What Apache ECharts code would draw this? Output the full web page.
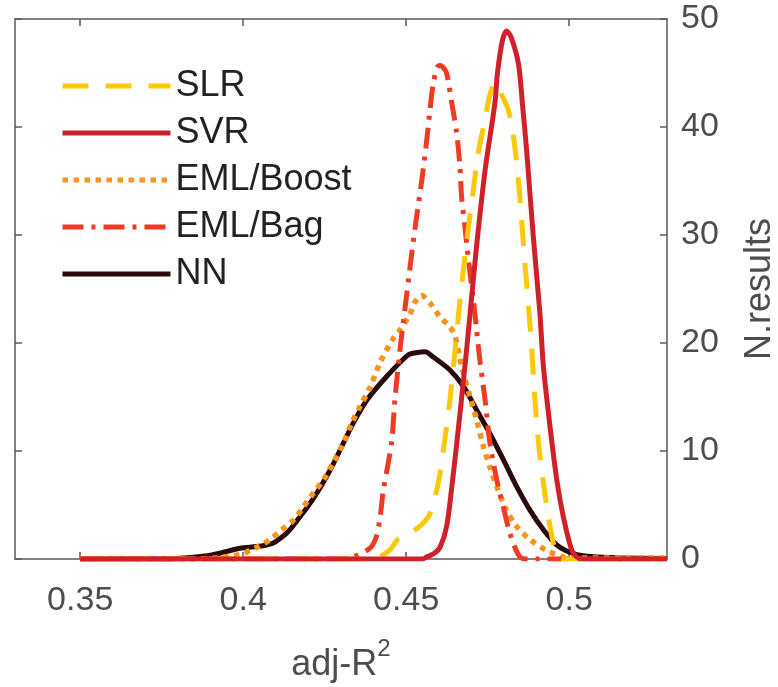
<!DOCTYPE html>
<html>
<head>
<meta charset="utf-8">
<script src="https://cdn.jsdelivr.net/npm/echarts@6/dist/echarts.min.js"></script>
<style>
html,body{margin:0;padding:0;background:#fff;}
#chart{width:778px;height:687px;}
</style>
</head>
<body>
<div id="chart"></div>
<script>
const seriesNames = ['SLR', 'SVR', 'EML/Boost', 'EML/Bag', 'NN'];
const xTicks = [0.35, 0.4, 0.45, 0.5];
const yTicks = [0, 10, 20, 30, 40, 50];

const slr = [[0.35,0],[0.44,0],[0.4430,0.4],[0.4455,1.0],[0.4476,1.9],[0.4527,2.7],[0.4555,3.4],[0.4573,4.2],[0.4598,7.0],[0.4614,10.1],[0.4634,14.7],[0.4650,19.4],[0.4665,24.0],[0.4690,30.5],[0.4706,34.2],[0.4721,37.6],[0.4737,40.0],[0.4757,43.0],[0.4772,44.1],[0.4788,43.3],[0.4813,41.6],[0.4829,39.1],[0.4844,35.1],[0.4854,31.4],[0.4864,27.4],[0.4875,23.5],[0.4885,19.4],[0.4895,14.7],[0.4905,11.0],[0.4921,7.0],[0.4936,3.9],[0.4951,1.5],[0.4962,0.2],[0.498,0],[0.53,0]];

const svr = [[0.35,0],[0.455,0],[0.4563,0.2],[0.4585,0.5],[0.4604,1.1],[0.4624,3.0],[0.4640,6.7],[0.4655,10.7],[0.4670,14.9],[0.4686,19.6],[0.4701,24.3],[0.4716,29.0],[0.4742,36.0],[0.4772,42.2],[0.4780,45.0],[0.4795,48.0],[0.4808,48.9],[0.4822,48.3],[0.4844,45.9],[0.4857,42.0],[0.4870,37.6],[0.4890,29.8],[0.4910,22.8],[0.4921,17.8],[0.4941,12.3],[0.4962,7.3],[0.4982,3.9],[0.5008,0.8],[0.5023,0.2],[0.504,0],[0.53,0]];

const boost = [[0.35,0],[0.385,0],[0.392,0.1],[0.397,0.3],[0.400,0.5],[0.4021,0.8],[0.4050,1.2],[0.4082,1.8],[0.4118,2.7],[0.4154,3.6],[0.4184,4.8],[0.4215,6.1],[0.4246,7.3],[0.4276,8.9],[0.4307,10.7],[0.4333,12.6],[0.4358,14.1],[0.4389,15.9],[0.4420,18.2],[0.4460,20.4],[0.4481,21.2],[0.4512,22.7],[0.4527,23.8],[0.4547,24.4],[0.4573,23.7],[0.4604,22.4],[0.4634,21.5],[0.4650,20.6],[0.4670,17.8],[0.4696,15.0],[0.4716,12.9],[0.4737,10.4],[0.4757,8.5],[0.4778,6.7],[0.4808,4.5],[0.4839,3.0],[0.4880,1.8],[0.4931,0.8],[0.4982,0.2],[0.505,0.1],[0.53,0.1]];

const bag = [[0.35,0],[0.4307,0],[0.4338,0.2],[0.4389,1.0],[0.4409,2.1],[0.4420,3.9],[0.4430,6.4],[0.4445,8.9],[0.4456,11.0],[0.4466,15.0],[0.4481,19.4],[0.4502,24.6],[0.4517,28.3],[0.4532,31.7],[0.4548,35.1],[0.4563,38.8],[0.4573,41.6],[0.4583,44.0],[0.4595,45.5],[0.4604,45.7],[0.4614,45.5],[0.4624,45.0],[0.4640,42.2],[0.4655,39.4],[0.4665,36.3],[0.4670,33.5],[0.4680,30.8],[0.4691,27.7],[0.4706,24.0],[0.4716,21.2],[0.4726,18.4],[0.4742,14.7],[0.4757,10.7],[0.4778,7.3],[0.4798,4.8],[0.4818,2.4],[0.4844,0.4],[0.4864,0],[0.53,0]];

const nn = [[0.35,0],[0.375,0],[0.382,0.1],[0.3875,0.25],[0.3907,0.4],[0.3950,0.7],[0.3990,1.0],[0.4041,1.15],[0.4072,1.3],[0.4091,1.45],[0.4113,1.9],[0.4140,2.6],[0.4164,3.5],[0.4215,5.6],[0.4266,8.2],[0.4307,10.7],[0.4338,12.6],[0.4379,14.7],[0.4440,16.9],[0.4506,18.9],[0.4530,19.1],[0.4558,19.2],[0.4583,18.7],[0.4634,17.5],[0.4675,16.0],[0.4716,13.8],[0.4757,11.6],[0.4798,9.2],[0.4839,6.7],[0.4880,4.5],[0.4921,2.7],[0.4962,1.3],[0.5013,0.5],[0.5074,0.2],[0.5156,0.1],[0.53,0.05]];

const FONT = '"Liberation Sans", Arial, Helvetica, sans-serif';
const axisCol = '#5a5a5a';
const labelCol = '#4d4d4d';

function mkSeries(name, data, color, type, width, z) {
  return {
    name: name, type: 'line', data: data, xAxisIndex: 0, yAxisIndex: 0,
    showSymbol: false, symbol: 'none', smooth: 0.3,
    lineStyle: { color: color, width: width, type: type, cap: 'butt', join: 'round' },
    itemStyle: { color: color },
    emphasis: { disabled: true }, z: z, animation: false
  };
}

const chart = echarts.init(document.getElementById('chart'), null, { renderer: 'canvas' });
chart.setOption({
  backgroundColor: '#ffffff',
  animation: false,
  grid: { left: 15, top: 19, right: 111, bottom: 128, containLabel: false, outerBoundsMode: 'none' },
  legend: {
    data: seriesNames, orient: 'vertical', left: 60, top: 66, padding: 0,
    itemWidth: 108, itemHeight: 20, itemGap: 7,
    selectedMode: false,
    itemStyle: { opacity: 0 },
    lineStyle: { width: 5 },
    textStyle: { fontFamily: FONT, fontSize: 36, color: '#222', lineHeight: 40 }
  },
  xAxis: [{
    type: 'value', min: 0.33, max: 0.53, position: 'bottom',
    axisLine: { show: true, onZero: false, lineStyle: { color: axisCol, width: 1.5 } },
    axisTick: { show: true, inside: true, length: 7, customValues: xTicks, lineStyle: { color: axisCol, width: 1.5 } },
    axisLabel: { customValues: xTicks, fontFamily: FONT, fontSize: 34, color: labelCol, margin: 25 },
    splitLine: { show: false },
    name: '{b|adj-R}{s|2}', nameLocation: 'middle', nameGap: 78,
    nameTextStyle: { fontFamily: FONT, color: labelCol,
      rich: { b: { fontFamily: FONT, fontSize: 36, color: labelCol, lineHeight: 46, verticalAlign: 'bottom' },
              s: { fontFamily: FONT, fontSize: 24, color: labelCol, lineHeight: 24, verticalAlign: 'top' } } }
  }, {
    type: 'value', min: 0.33, max: 0.53, position: 'top',
    axisLine: { show: true, onZero: false, lineStyle: { color: axisCol, width: 1.5 } },
    axisTick: { show: true, inside: true, length: 7, customValues: xTicks, lineStyle: { color: axisCol, width: 1.5 } },
    axisLabel: { show: false, customValues: xTicks },
    splitLine: { show: false }
  }],
  yAxis: [{
    type: 'value', min: 0, max: 50, interval: 10, position: 'right',
    axisLine: { show: true, onZero: false, lineStyle: { color: axisCol, width: 1.5 } },
    axisTick: { show: true, inside: true, length: 7, customValues: yTicks, lineStyle: { color: axisCol, width: 1.5 } },
    axisLabel: { customValues: yTicks, fontFamily: FONT, fontSize: 34, color: labelCol, margin: 14 },
    splitLine: { show: false },
    name: 'N.results', nameLocation: 'middle', nameRotate: 90, nameGap: 75,
    nameTextStyle: { fontFamily: FONT, fontSize: 36, color: labelCol }
  }, {
    type: 'value', min: 0, max: 50, interval: 10, position: 'left',
    axisLine: { show: true, onZero: false, lineStyle: { color: axisCol, width: 1.5 } },
    axisTick: { show: true, inside: true, length: 7, customValues: yTicks, lineStyle: { color: axisCol, width: 1.5 } },
    axisLabel: { show: false },
    splitLine: { show: false }
  }],
  series: [
    mkSeries('NN', nn, '#2B0A0D', 'solid', 5, 2),
    mkSeries('EML/Boost', boost, '#F7941E', [5.5, 5.5], 5.5, 3),
    mkSeries('EML/Bag', bag, '#EE3B24', [21, 8, 4, 8], 5, 4),
    mkSeries('SLR', slr, '#FDC80A', [26, 17], 5, 5),
    mkSeries('SVR', svr, '#D0202A', 'solid', 5, 6)
  ]
});
</script>
</body>
</html>
